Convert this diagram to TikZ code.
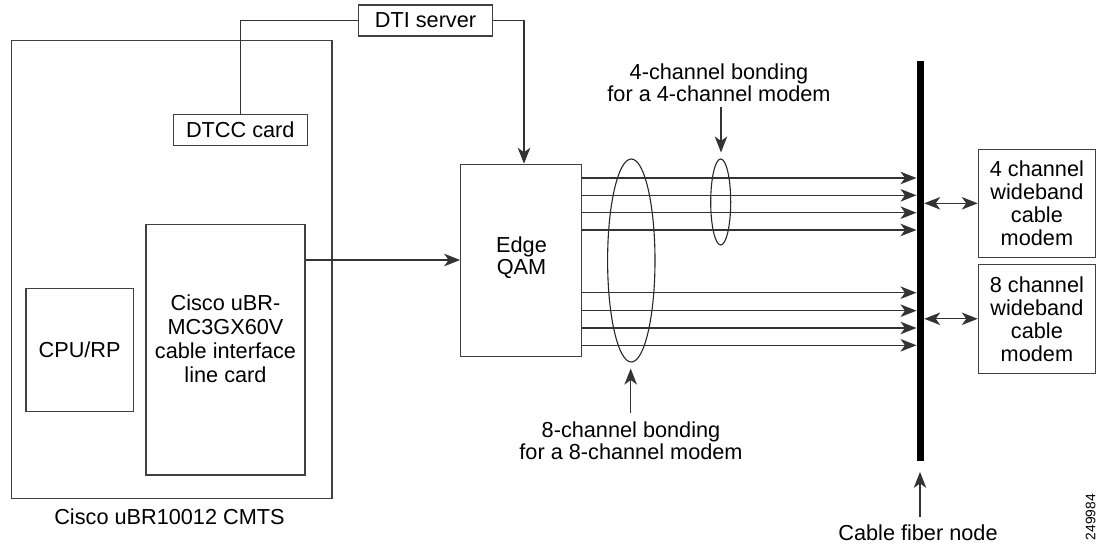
\documentclass[tikz,border=0pt]{standalone}
\usepackage{fontspec}
\setmainfont{Liberation Sans}
\usetikzlibrary{shapes.geometric,arrows.meta}
\begin{document}
\begin{tikzpicture}[x=1pt,y=-1pt,
  lbl/.style={font=\fontsize{21.7}{22.5}\selectfont, align=center, inner sep=0pt},
  box/.style={draw=black!75, line width=1.1pt, inner sep=0pt, align=center, font=\fontsize{21.7}{23}\selectfont},
  conn/.style={draw=black!80, line width=1.2pt},
  tip/.tip={Stealth[length=16pt,width=12.5pt,inset=4.5pt]},
  arr/.style={conn, -tip},
  darr/.style={conn, tip-tip},
  oval/.style={draw=black!85, line width=1.1pt, ellipse, inner sep=0pt}
]
\useasboundingbox (0,0) rectangle (1097,545);

% boxes
\node[box, minimum width=320.3pt, minimum height=458pt] (cmts) at (171.85,269.3) {};
\node[box, minimum width=134.4pt, minimum height=31pt, fill=white] (dti) at (425.5,20.5) {DTI server};
\node[box, minimum width=134pt, minimum height=31.4pt] (dtcc) at (240.3,130) {DTCC card};
\node[box, minimum width=107.3pt, minimum height=123pt] (cpu) at (79.65,349.8) {CPU/RP};
\node[box, minimum width=159pt, minimum height=250.3pt] (lc) at (225.5,349.85) {};
\node[lbl, font=\fontsize{21.7}{24}\selectfont] (lctext) at (225.5,339) {Cisco uBR-\\MC3GX60V\\cable interface\\line card};
\node[box, minimum width=121pt, minimum height=192.4pt] (qam) at (521.2,260.5) {};
\node[lbl] (qamtext) at (521.5,257.5) {Edge\\QAM};
\node[box, minimum width=117.2pt, minimum height=108pt] (m4) at (1036.9,203.3) {4 channel\\wideband\\cable\\modem};
\node[box, minimum width=117.2pt, minimum height=109pt] (m8) at (1036.9,318.8) {8 channel\\wideband\\cable\\modem};
\node[fill=black, inner sep=0pt, minimum width=7.3pt, minimum height=399.7pt] (bar) at (920.35,260.85) {};

% ellipses
\node[oval, minimum width=47.4pt, minimum height=203pt] (e8) at (631.3,260.5) {};
\node[oval, minimum width=20pt, minimum height=86pt] (e4) at (720.7,202) {};

% labels
\node[lbl] (l4) at (719,82.5) {4-channel bonding\\for a 4-channel modem};
\node[lbl] (l8) at (631,440.5) {8-channel bonding\\for a 8-channel modem};
\node[lbl] (lcmts) at (169.5,516.7) {Cisco uBR10012 CMTS};
\node[lbl] (lfiber) at (918,532.7) {Cable fiber node};
\node[lbl, font=\fontsize{13.8}{15}\selectfont, rotate=90] (fig) at (1090.7,517) {249984};

% connectors
\draw[conn] (dti.west) -| (dtcc.north);
\draw[arr] (dti.east) -| ([xshift=2.8pt]qam.north);
\coordinate (lcy) at (0,260);
\draw[arr] (lc.east |- lcy) -- (qam.west |- lcy);

\foreach \y [count=\i] in {178,195.3,212.7,230,292.7,310.7,328,345.3} {
  \coordinate (ch\i) at (0,\y);
  \draw[arr] (qam.east |- ch\i) -- (bar.west |- ch\i);
}

\draw[darr] (bar.east |- m4.west) -- (m4.west);
\draw[darr] (bar.east |- m8.west) -- (m8.west);

\coordinate (t4) at (721,106.7);
\draw[arr, shorten >=6pt] (t4) -- (t4 |- e4.north);
\coordinate (t8) at (630.7,412.7);
\draw[arr, shorten >=6pt] (t8) -- (t8 |- e8.south);
\coordinate (tf) at (920,516.7);
\draw[arr, shorten >=11pt] (tf) -- (tf |- bar.south);
\end{tikzpicture}
\end{document}
